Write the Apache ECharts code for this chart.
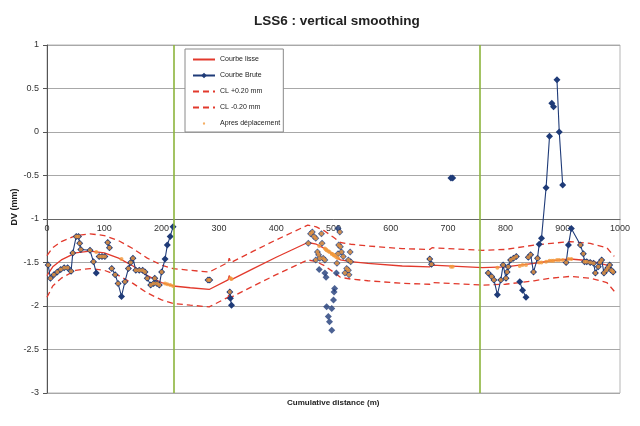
<!DOCTYPE html>
<html><head><meta charset="utf-8">
<script src="https://cdn.jsdelivr.net/npm/echarts@6/dist/echarts.min.js"></script>
<style>html,body{margin:0;padding:0;background:#fff}#c{width:640px;height:426px}</style>
</head><body><div id="c"></div>
<script>
// ---- data ----
const xTicks = [0, 1000, 100];
const yTicks = [-3, 1, 0.5];
const zoneBounds = [222, 755];

const smoothX = [0,10,25,50,75,100,125,150,175,200,220,250,283,316,318,321,360,400,455,470,485,500,512,530,560,620,668,672,760,800,850,880,913,948,977,990];
const smoothY = [-1.65,-1.55,-1.47,-1.39,-1.37,-1.39,-1.45,-1.54,-1.65,-1.73,-1.77,-1.79,-1.81,-1.70,-1.65,-1.70,-1.57,-1.44,-1.27,-1.29,-1.34,-1.41,-1.47,-1.49,-1.51,-1.54,-1.55,-1.53,-1.56,-1.55,-1.51,-1.48,-1.46,-1.48,-1.53,-1.61];
const upperY  = [-1.42,-1.33,-1.26,-1.19,-1.17,-1.19,-1.25,-1.34,-1.45,-1.53,-1.57,-1.59,-1.61,-1.50,-1.45,-1.50,-1.37,-1.24,-1.07,-1.09,-1.14,-1.21,-1.27,-1.29,-1.31,-1.34,-1.35,-1.33,-1.36,-1.35,-1.30,-1.28,-1.26,-1.28,-1.33,-1.43];
const lowerY  = [-1.90,-1.77,-1.68,-1.59,-1.57,-1.59,-1.65,-1.74,-1.85,-1.93,-1.97,-1.99,-2.01,-1.90,-1.85,-1.90,-1.77,-1.64,-1.47,-1.49,-1.54,-1.61,-1.67,-1.69,-1.71,-1.74,-1.75,-1.73,-1.76,-1.75,-1.71,-1.68,-1.66,-1.68,-1.73,-1.83];

// raw measurements (connected segments, null = gap)
const brutX = [2,6,12,18,24,30,36,42,45,51,55,57,59,75,81,86,86,
  91,96,101,101,106,109,109,113,119,124,130,136,142,146,150,155,161,167,171,175,181,186,188,192,196,200,206,210,215,220,220,
  281,284,284,319,320,322,322,
  668,671,671,705,708,708,
  770,776,780,786,792,796,801,803,805,809,814,819,819,825,830,836,836,
  840,844,849,856,859,863,871,877,877,881,884,884,890,894,900,900,
  906,910,915,931,936,938,942,948,954,957,962,965,968,972,976,979,982,985,988];
const brutY = [-1.53,-1.68,-1.64,-1.61,-1.58,-1.56,-1.56,-1.60,-1.39,-1.20,-1.20,-1.28,-1.35,-1.36,-1.49,-1.62,null,
  -1.43,-1.43,-1.43,null,-1.27,-1.33,null,-1.57,-1.64,-1.74,-1.89,-1.72,-1.57,-1.50,-1.45,-1.59,-1.59,-1.59,-1.61,-1.68,-1.76,-1.74,-1.68,-1.74,-1.76,-1.61,-1.46,-1.30,-1.20,-1.09,null,
  -1.70,-1.70,null,-1.84,-1.91,-1.99,null,
  -1.46,-1.52,null,-0.53,-0.53,null,
  -1.62,-1.66,-1.70,-1.87,-1.70,-1.53,-1.68,-1.61,-1.55,-1.47,-1.45,-1.43,null,-1.72,-1.82,-1.90,null,
  -1.44,-1.41,-1.61,-1.45,-1.29,-1.22,-0.64,-0.05,null,0.33,0.29,null,0.60,0.00,-0.61,null,
  -1.50,-1.30,-1.11,-1.30,-1.40,-1.49,-1.49,-1.50,-1.51,-1.62,-1.55,-1.50,-1.47,-1.62,-1.59,-1.56,-1.53,-1.59,-1.61];
const apresY = [-1.53,-1.68,-1.64,-1.61,-1.58,-1.56,-1.56,-1.60,-1.39,-1.20,-1.20,-1.28,-1.35,-1.36,-1.49,-1.38,null,
  -1.43,-1.43,-1.43,null,-1.27,-1.33,null,-1.57,-1.64,-1.74,-1.46,-1.72,-1.57,-1.50,-1.45,-1.59,-1.59,-1.59,-1.61,-1.68,-1.76,-1.74,-1.68,-1.74,-1.76,-1.61,-1.74,-1.75,-1.76,-1.77,null,
  -1.70,-1.70,null,-1.84,-1.68,-1.69,null,
  -1.46,-1.52,null,-1.55,-1.55,null,
  -1.62,-1.66,-1.70,-1.56,-1.70,-1.53,-1.68,-1.61,-1.55,-1.47,-1.45,-1.43,null,-1.54,-1.53,-1.53,null,
  -1.44,-1.41,-1.61,-1.45,-1.50,-1.50,-1.49,-1.48,null,-1.48,-1.48,null,-1.47,-1.47,-1.47,null,
  -1.50,-1.46,-1.46,-1.30,-1.40,-1.49,-1.49,-1.50,-1.51,-1.62,-1.55,-1.50,-1.47,-1.62,-1.59,-1.56,-1.53,-1.59,-1.61];

// raw measurements around 450-530 m (unconnected points)
const clusterX = [456,460,463,466,469,469,472,474,476,475,479,480,482,485,485,487,488,491,493,497,497,500,501,502,505,506,508,509,508,511,512,514,517,520,523,526,526,527,529,530];
const clusterY = [-1.28,-1.17,-1.15,-1.20,-1.22,-1.47,-1.38,-1.41,-1.45,-1.58,-1.17,-1.28,-1.45,-1.47,-1.62,-1.67,-2.01,-2.12,-2.18,-2.28,-2.03,-1.93,-1.84,-1.80,-1.62,-1.51,-1.40,-1.30,-1.11,-1.15,-1.32,-1.38,-1.43,-1.62,-1.57,-1.47,-1.59,-1.64,-1.38,-1.49];
const clusterApresY = [-1.28,-1.17,-1.15,-1.20,-1.22,-1.47,-1.38,-1.41,-1.45,-1.31,-1.17,-1.28,-1.45,-1.47,-1.34,-1.35,-1.36,-1.37,-1.38,-1.40,-1.40,-1.41,-1.42,-1.42,-1.44,-1.51,-1.40,-1.30,-1.45,-1.15,-1.32,-1.38,-1.43,-1.62,-1.57,-1.47,-1.59,-1.64,-1.38,-1.49];

// ---- chart ----
const pair = (xs, ys) => xs.map((x, i) => [x, ys[i]]);
const RED = '#e2392c', NAVY = '#1f3b78', ORANGE = '#f39a3c';
const apresPts = pair(brutX, apresY).filter(p => p[1] !== null).concat(pair(clusterX, clusterApresY));
const hideSym = {opacity: 0};

const chart = echarts.init(document.getElementById('c'), null, {renderer: 'canvas'});
chart.setOption({
  animation: false,
  backgroundColor: '#fff',
  textStyle: {fontFamily: 'Liberation Sans, Arial, sans-serif'},
  title: {
    text: 'LSS6 : vertical smoothing', left: 249, top: 9,
    textStyle: {fontSize: 13.5, fontWeight: 'bold', color: '#222', fontFamily: 'Liberation Sans, Arial, sans-serif'}
  },
  legend: {
    orient: 'vertical', left: 185, top: 49,
    backgroundColor: '#fff', borderColor: '#8a8a8a', borderWidth: 1,
    padding: [7, 3, 5, 7], itemGap: 9, itemWidth: 22, itemHeight: 7,
    textStyle: {fontSize: 7, color: '#222'},
    data: [
      {name: 'Courbe lisse', itemStyle: hideSym},
      'Courbe Brute',
      {name: 'CL +0.20 mm', itemStyle: hideSym},
      {name: 'CL -0.20 mm', itemStyle: hideSym},
      {name: 'Apres déplacement', icon: 'path://M0,0M10,10M3.5,3.5h3v3h-3z', itemStyle: {color: ORANGE}}
    ]
  },
  grid: {left: 47, right: 20, top: 45, bottom: 33, show: true, borderColor: '#b5b5b5', borderWidth: 1,
         containLabel: false, outerBoundsMode: 'none'},
  graphic: [
    {
      type: 'text', left: 287, top: 399,
      style: {text: 'Cumulative distance (m)', font: 'bold 8px Liberation Sans, Arial, sans-serif', fill: '#222'}
    },
    {
      type: 'text', x: 15, y: 207, rotation: Math.PI / 2,
      style: {text: 'DV (mm)', font: 'bold 9px Liberation Sans, Arial, sans-serif', fill: '#222',
              align: 'center', verticalAlign: 'middle'}
    }
  ],
  xAxis: {
    type: 'value', min: xTicks[0], max: xTicks[1], interval: xTicks[2],
    position: 'bottom', offset: -174,
    axisLine: {show: true, lineStyle: {color: '#666', width: 1}},
    axisTick: {show: false},
    axisLabel: {fontSize: 9, color: '#333', margin: 5, formatter: v => String(v)},
    splitLine: {show: false}
  },
  yAxis: {
    type: 'value', min: yTicks[0], max: yTicks[1], interval: yTicks[2],
    axisLine: {show: true, lineStyle: {color: '#555'}},
    axisTick: {show: true, length: 4, lineStyle: {color: '#555'}},
    axisLabel: {fontSize: 9, color: '#333', margin: 8},
    splitLine: {show: true, lineStyle: {color: '#a8a8a8', width: 1.2}}
  },
  series: [
    {
      name: 'Courbe lisse', type: 'line', data: pair(smoothX, smoothY),
      showSymbol: false, symbol: 'none', lineStyle: {color: RED, width: 1.3}, itemStyle: {color: RED}, z: 3,
      markLine: {
        silent: true, symbol: 'none', label: {show: false},
        lineStyle: {color: '#8cb43c', width: 1.6, type: 'solid'},
        data: zoneBounds.map(v => ({xAxis: v}))
      }
    },
    {
      name: 'Courbe Brute', type: 'line', data: pair(brutX, brutY), connectNulls: false,
      symbol: 'diamond', symbolSize: 7, showSymbol: true,
      lineStyle: {color: NAVY, width: 1.1}, itemStyle: {color: NAVY}, z: 4
    },
    {
      name: 'Courbe Brute', type: 'scatter', data: pair(clusterX, clusterY),
      symbol: 'diamond', symbolSize: 7, itemStyle: {color: NAVY}, z: 4
    },
    {
      name: 'CL +0.20 mm', type: 'line', data: pair(smoothX, upperY),
      symbol: 'none', lineStyle: {color: RED, width: 1.3, type: [6, 4]}, itemStyle: {color: RED}, z: 3
    },
    {
      name: 'CL -0.20 mm', type: 'line', data: pair(smoothX, lowerY),
      symbol: 'none', lineStyle: {color: RED, width: 1.3, type: [6, 4]}, itemStyle: {color: RED}, z: 3
    },
    {
      name: 'Apres déplacement', type: 'scatter', data: apresPts,
      symbol: 'circle', symbolSize: 4, itemStyle: {color: ORANGE}, z: 5
    }
  ]
});
</script></body></html>
